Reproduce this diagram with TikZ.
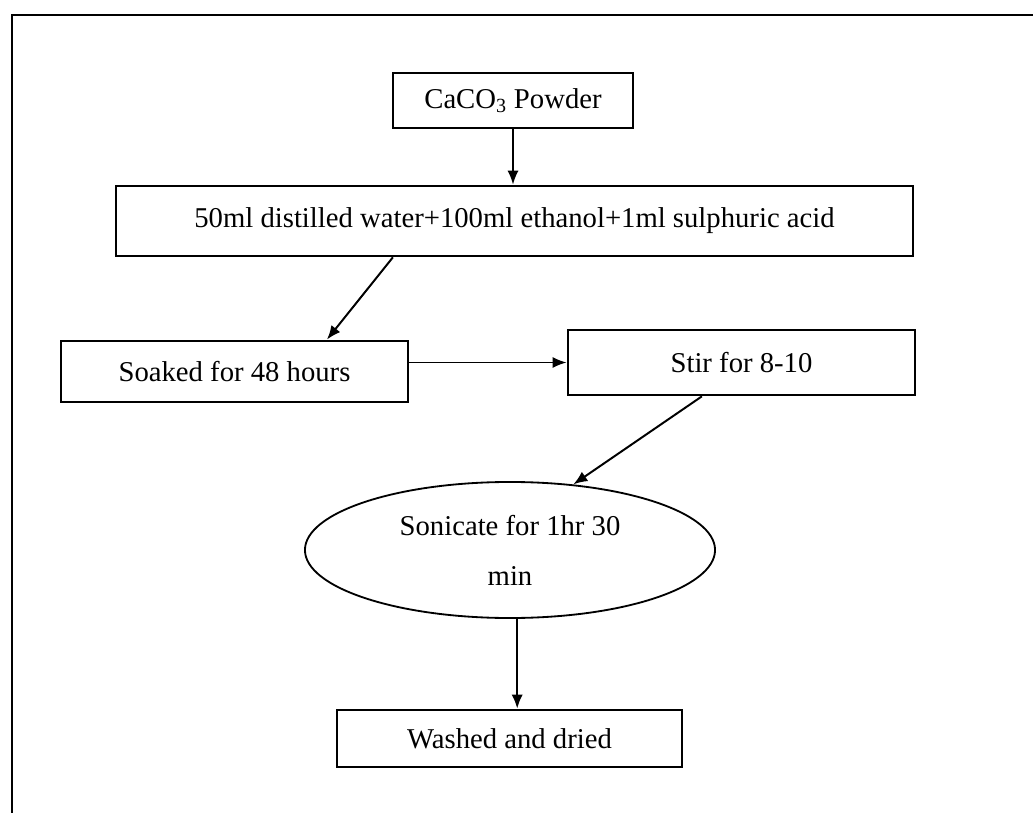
\documentclass[tikz,border=0pt]{standalone}
\usepackage{fontspec}
\setmainfont{Liberation Serif}
\usetikzlibrary{shapes,calc,arrows,arrows.meta,positioning}
\tikzstyle{l1}=[line width=1.4pt]
\tikzstyle{box}=[rectangle, draw=black, line width=1.9pt, inner sep=0pt, font=\fontsize{20.4}{24}\selectfont]
\tikzstyle{oval}=[ellipse, draw=black, line width=1.3pt, inner sep=0pt, align=center, font=\fontsize{20.4}{24}\selectfont]
\tikzstyle{arr}=[l1, -{Latex[length=10pt,width=8pt]}]

\begin{document}
\begin{tikzpicture}[x=0.025cm, y=-0.025cm]
    \useasboundingbox (0,0) rectangle (1033,813);
    % open frame
    \draw[l1] (12,813) -- (12,15) -- (1033,15);
    \node[box, minimum width=6cm, minimum height=1.375cm] at (513,100.5) (caco) {CaCO\textsubscript{3} Powder};
    \node[box, minimum width=19.925cm, minimum height=1.75cm] at (514.5,221) (mix) {50ml distilled water+100ml ethanol+1ml sulphuric acid};
    \node[box, minimum width=8.675cm, minimum height=1.525cm] at (234.5,371.5) (soak) {Soaked for 48 hours};
    \node[box, minimum width=8.675cm, minimum height=1.625cm] at (741.5,362.5) (stir) {Stir for 8-10};
    \node[oval, minimum width=10.25cm, minimum height=3.4cm] at (510,550) (son) {Sonicate for 1hr 30\\[11.5pt] min};
    \node[box, minimum width=8.625cm, minimum height=1.425cm] at (509.5,738.5) (wash) {Washed and dried};

    \draw[arr] (caco.south) -- (caco.south |- mix.north);
    \draw[arr] ([xshift=-3.04cm]mix.south) -- ([xshift=2.31cm]soak.north);
    \draw[arr] (soak.east |- stir.west) -- (stir.west);
    \draw[arr] ([xshift=-0.99cm]stir.south) -- (son.46);
    \draw[arr] ([xshift=0.18cm]son.south) -- ([xshift=0.18cm]son.south |- wash.north);
\end{tikzpicture}
\end{document}
